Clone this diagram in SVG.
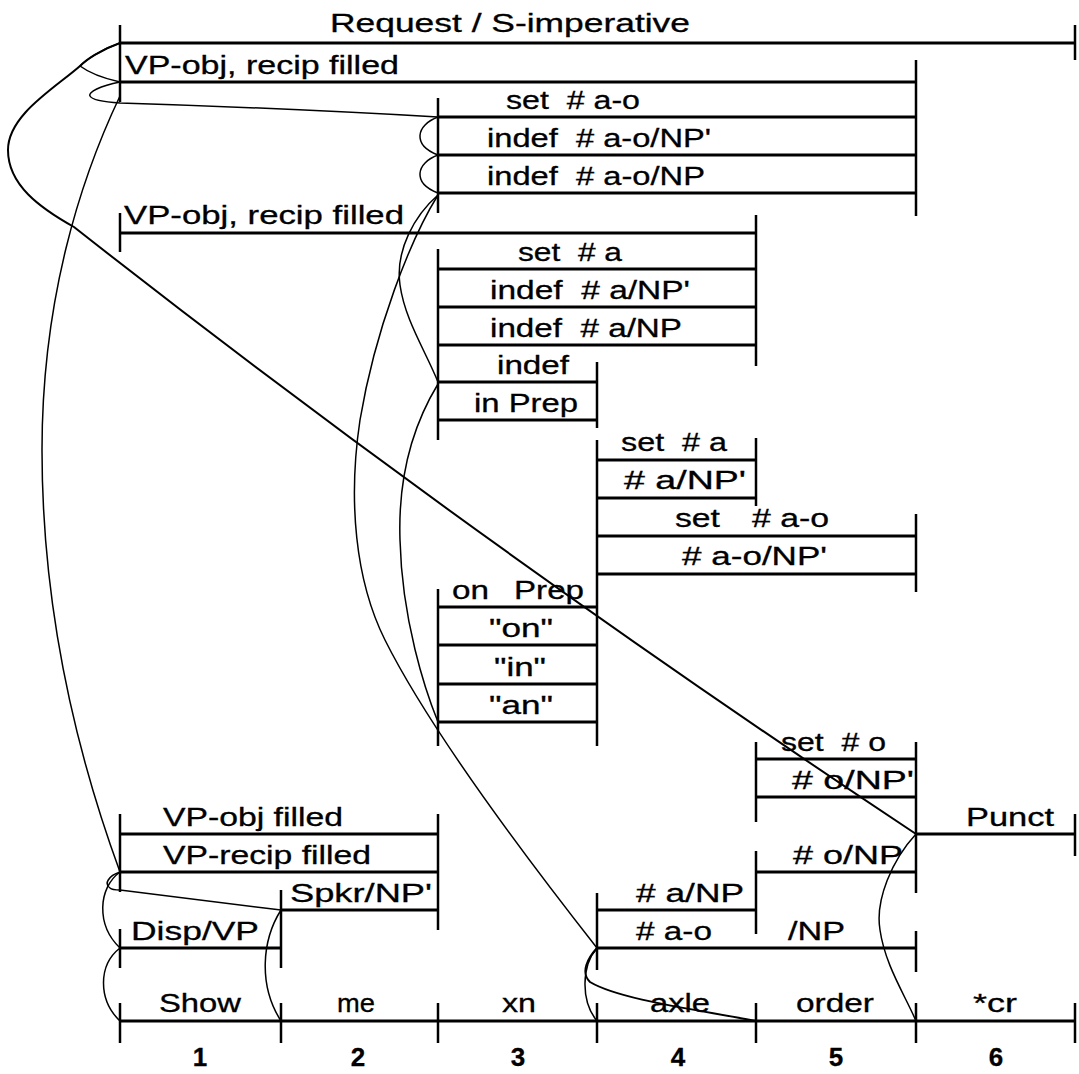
<svg xmlns="http://www.w3.org/2000/svg" width="1079" height="1074" viewBox="0 0 1079 1074">
<style>
.e{stroke:#000;stroke-width:3;fill:none}
.t{stroke:#000;stroke-width:2.5;fill:none}
.c{stroke:#000;stroke-width:1.5;fill:none}
.c2{stroke:#000;stroke-width:2;fill:none}
text{font-family:"Liberation Sans",Arial,sans-serif;font-size:25.5px;fill:#000;stroke:#000;stroke-width:0.3}
.p{white-space:pre}
.n{font-weight:bold;font-size:26px;text-anchor:middle}
</style>
<rect width="1079" height="1074" fill="#fff"/>
<g id="boundaries">
<line class="t" x1="120" y1="25" x2="120" y2="102"/>
<line class="t" x1="120" y1="213" x2="120" y2="252"/>
<line class="t" x1="120" y1="814" x2="120" y2="892"/>
<line class="t" x1="120" y1="929" x2="120" y2="968"/>
<line class="t" x1="281" y1="890" x2="281" y2="968"/>
<line class="t" x1="438" y1="98" x2="438" y2="213"/>
<line class="t" x1="438" y1="249" x2="438" y2="440"/>
<line class="t" x1="438" y1="589" x2="438" y2="746"/>
<line class="t" x1="438" y1="814" x2="438" y2="930"/>
<line class="t" x1="597" y1="362" x2="597" y2="428"/>
<line class="t" x1="597" y1="440" x2="597" y2="746"/>
<line class="t" x1="597" y1="893" x2="597" y2="970"/>
<line class="t" x1="756" y1="215" x2="756" y2="366"/>
<line class="t" x1="756" y1="438" x2="756" y2="506"/>
<line class="t" x1="756" y1="742" x2="756" y2="822"/>
<line class="t" x1="756" y1="851" x2="756" y2="934"/>
<line class="t" x1="916" y1="60" x2="916" y2="216"/>
<line class="t" x1="916" y1="514" x2="916" y2="592"/>
<line class="t" x1="916" y1="742" x2="916" y2="893"/>
<line class="t" x1="916" y1="931" x2="916" y2="972"/>
<line class="t" x1="1075" y1="25" x2="1075" y2="60"/>
<line class="t" x1="1075" y1="814" x2="1075" y2="856"/>
</g>
<g id="connectors">
<path class="c" d="M120,43 C100,50 86,60 80,66 C88,72 102,78 120,82"/>
<path class="c2" d="M120,43 C100,50 86,60 80,66 C55,88 8,115 8,150 C8,185 40,208 74,227 C374,463 666,668 916,834"/>
<path class="c" d="M120,82 C100,86 88,92 90,96 C92,100 105,102 120,103 C220,106 350,112 438,117"/>
<path class="c" d="M120,96 C80,180 42,300 42,450 C42,640 90,790 120,872"/>
<path class="c" d="M120,872 C108,876 104,884 110,888 C112,890 116,890 120,890 L281,910"/>
<path class="c" d="M120,872 C98,888 96,925 120,948"/>
<path class="c" d="M120,948 C98,965 98,1000 120,1021"/>
<path class="c" d="M281,910 C262,940 258,985 281,1021"/>
<path class="c" d="M438,117 C416,125 412,145 438,155"/>
<path class="c" d="M438,155 C416,163 412,183 438,193"/>
<path class="c" d="M438,195 C415,215 395,250 400,285 C405,320 425,350 438,382"/>
<path class="c" d="M438,195 C410,240 375,330 360,420 C348,500 355,580 385,640 C430,730 520,850 597,948"/>
<path class="c" d="M438,384 C410,430 398,480 400,540 C402,620 425,690 438,722"/>
<path class="c" d="M597,948 C582,965 580,1000 597,1021"/>
<path class="c2" d="M597,948 C588,958 580,972 590,982 C620,1000 700,1010 756,1021"/>
<path class="c" d="M916,834 C892,860 875,900 880,930 C885,965 905,995 916,1021"/>
</g>
<g id="n-request"><line class="e" x1="120" y1="43" x2="1075" y2="43"/><text x="330" y="32" textLength="360" lengthAdjust="spacingAndGlyphs">Request / S-imperative</text></g>
<g id="n-vp-obj-recip-1"><line class="e" x1="120" y1="82" x2="916" y2="82"/><text x="125" y="74" textLength="274" lengthAdjust="spacingAndGlyphs">VP-obj, recip filled</text></g>
<g id="n-set-ao-1"><line class="e" x1="438" y1="117" x2="916" y2="117"/><text class="p" x="506" y="109" textLength="134" lengthAdjust="spacingAndGlyphs">set  # a-o</text></g>
<g id="n-indef-ao-npp"><line class="e" x1="438" y1="155" x2="916" y2="155"/><text class="p" x="487" y="147" textLength="224" lengthAdjust="spacingAndGlyphs">indef  # a-o/NP'</text></g>
<g id="n-indef-ao-np"><line class="e" x1="438" y1="193" x2="916" y2="193"/><text class="p" x="487" y="185" textLength="218" lengthAdjust="spacingAndGlyphs">indef  # a-o/NP</text></g>
<g id="n-vp-obj-recip-2"><line class="e" x1="120" y1="233" x2="756" y2="233"/><text x="124" y="224" textLength="280" lengthAdjust="spacingAndGlyphs">VP-obj, recip filled</text></g>
<g id="n-set-a-1"><line class="e" x1="438" y1="269" x2="756" y2="269"/><text class="p" x="518" y="261" textLength="104" lengthAdjust="spacingAndGlyphs">set  # a</text></g>
<g id="n-indef-a-npp"><line class="e" x1="438" y1="307" x2="756" y2="307"/><text class="p" x="490" y="299" textLength="200" lengthAdjust="spacingAndGlyphs">indef  # a/NP'</text></g>
<g id="n-indef-a-np"><line class="e" x1="438" y1="345" x2="756" y2="345"/><text class="p" x="490" y="337" textLength="192" lengthAdjust="spacingAndGlyphs">indef  # a/NP</text></g>
<g id="n-indef"><line class="e" x1="438" y1="382" x2="597" y2="382"/><text x="497" y="374" textLength="72" lengthAdjust="spacingAndGlyphs">indef</text></g>
<g id="n-in-prep"><line class="e" x1="438" y1="420" x2="597" y2="420"/><text x="474" y="412" textLength="104" lengthAdjust="spacingAndGlyphs">in Prep</text></g>
<g id="n-set-a-2"><line class="e" x1="597" y1="460" x2="756" y2="460"/><text class="p" x="621" y="451" textLength="106" lengthAdjust="spacingAndGlyphs">set  # a</text></g>
<g id="n-a-npp"><line class="e" x1="597" y1="498" x2="756" y2="498"/><text x="624" y="489" textLength="122" lengthAdjust="spacingAndGlyphs"># a/NP'</text></g>
<g id="n-set-ao-2"><line class="e" x1="597" y1="536" x2="916" y2="536"/><text x="675" y="527" textLength="45" lengthAdjust="spacingAndGlyphs">set</text><text x="752" y="527" textLength="77" lengthAdjust="spacingAndGlyphs"># a-o</text></g>
<g id="n-ao-npp"><line class="e" x1="597" y1="574" x2="916" y2="574"/><text x="682" y="565" textLength="145" lengthAdjust="spacingAndGlyphs"># a-o/NP'</text></g>
<g id="n-on-prep"><line class="e" x1="438" y1="607" x2="597" y2="607"/><text x="452" y="599" textLength="37" lengthAdjust="spacingAndGlyphs">on</text><text x="514" y="599" textLength="70" lengthAdjust="spacingAndGlyphs">Prep</text></g>
<g id="n-on"><line class="e" x1="438" y1="645" x2="597" y2="645"/><text x="489" y="637" textLength="64" lengthAdjust="spacingAndGlyphs">"on"</text></g>
<g id="n-in"><line class="e" x1="438" y1="684" x2="597" y2="684"/><text x="494" y="676" textLength="52" lengthAdjust="spacingAndGlyphs">"in"</text></g>
<g id="n-an"><line class="e" x1="438" y1="722" x2="597" y2="722"/><text x="489" y="714" textLength="64" lengthAdjust="spacingAndGlyphs">"an"</text></g>
<g id="n-set-o"><line class="e" x1="756" y1="759" x2="916" y2="759"/><text class="p" x="781" y="751" textLength="105" lengthAdjust="spacingAndGlyphs">set  # o</text></g>
<g id="n-o-npp"><line class="e" x1="756" y1="797" x2="916" y2="797"/><text x="792" y="789" textLength="122" lengthAdjust="spacingAndGlyphs"># o/NP'</text></g>
<g id="n-punct"><line class="e" x1="916" y1="834" x2="1075" y2="834"/><text x="966" y="826" textLength="88" lengthAdjust="spacingAndGlyphs">Punct</text></g>
<g id="n-o-np"><line class="e" x1="756" y1="872" x2="916" y2="872"/><text x="793" y="864" textLength="110" lengthAdjust="spacingAndGlyphs"># o/NP</text></g>
<g id="n-a-np"><line class="e" x1="597" y1="910" x2="756" y2="910"/><text x="636" y="902" textLength="108" lengthAdjust="spacingAndGlyphs"># a/NP</text></g>
<g id="n-ao-np"><line class="e" x1="597" y1="948" x2="916" y2="948"/><text x="636" y="940" textLength="76" lengthAdjust="spacingAndGlyphs"># a-o</text><text x="788" y="940" textLength="57" lengthAdjust="spacingAndGlyphs">/NP</text></g>
<g id="n-vp-obj"><line class="e" x1="120" y1="834" x2="438" y2="834"/><text x="163" y="826" textLength="180" lengthAdjust="spacingAndGlyphs">VP-obj filled</text></g>
<g id="n-vp-recip"><line class="e" x1="120" y1="872" x2="438" y2="872"/><text x="163" y="864" textLength="208" lengthAdjust="spacingAndGlyphs">VP-recip filled</text></g>
<g id="n-spkr"><line class="e" x1="281" y1="910" x2="438" y2="910"/><text x="290" y="902" textLength="142" lengthAdjust="spacingAndGlyphs">Spkr/NP'</text></g>
<g id="n-disp"><line class="e" x1="120" y1="948" x2="281" y2="948"/><text x="131" y="940" textLength="128" lengthAdjust="spacingAndGlyphs">Disp/VP</text></g>
<g id="axis">
<line class="e" x1="120" y1="1021" x2="1075" y2="1021"/>
<line class="t" x1="120" y1="1003" x2="120" y2="1043"/>
<line class="t" x1="281" y1="1003" x2="281" y2="1043"/>
<line class="t" x1="438" y1="1003" x2="438" y2="1043"/>
<line class="t" x1="597" y1="1003" x2="597" y2="1043"/>
<line class="t" x1="756" y1="1003" x2="756" y2="1043"/>
<line class="t" x1="916" y1="1003" x2="916" y2="1043"/>
<line class="t" x1="1075" y1="1003" x2="1075" y2="1043"/>
</g>
<g id="words">
<text x="159" y="1012" textLength="82" lengthAdjust="spacingAndGlyphs">Show</text>
<text x="337" y="1012" textLength="38" lengthAdjust="spacingAndGlyphs">me</text>
<text x="502" y="1012" textLength="34" lengthAdjust="spacingAndGlyphs">xn</text>
<text x="650" y="1012" textLength="60" lengthAdjust="spacingAndGlyphs">axle</text>
<text x="796" y="1012" textLength="78" lengthAdjust="spacingAndGlyphs">order</text>
<text x="973" y="1012" textLength="44" lengthAdjust="spacingAndGlyphs">*cr</text>
</g>
<g id="numbers">
<text class="n" x="200" y="1066">1</text>
<text class="n" x="358" y="1066">2</text>
<text class="n" x="518" y="1066">3</text>
<text class="n" x="678" y="1066">4</text>
<text class="n" x="836" y="1066">5</text>
<text class="n" x="996" y="1066">6</text>
</g>
</svg>
